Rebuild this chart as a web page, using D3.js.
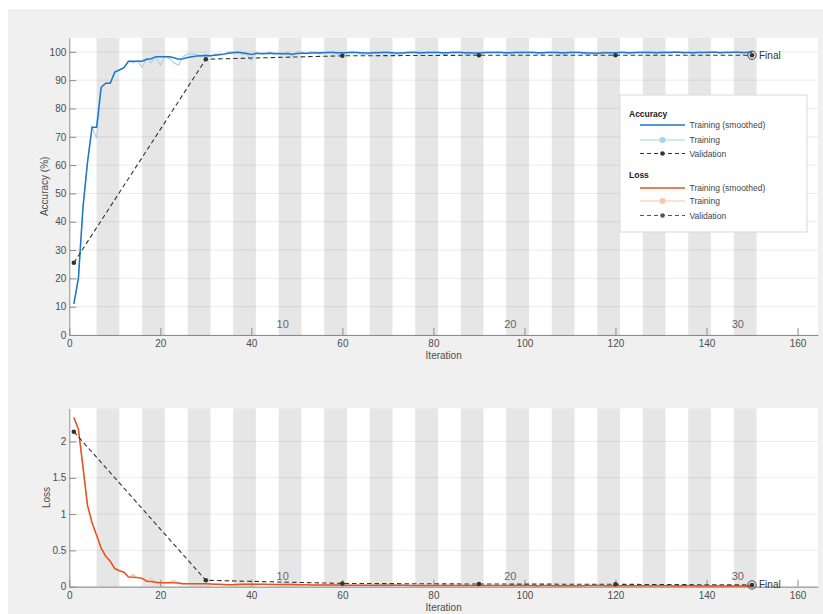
<!DOCTYPE html>
<html>
<head>
<meta charset="utf-8">
<script src="https://cdn.jsdelivr.net/npm/d3@7"></script>
<style>
  body { margin: 0; background: #ffffff; }
  svg { display: block; font-family: "Liberation Sans", Arial, Helvetica, sans-serif; }
</style>
</head>
<body>
<svg id="chart" width="823" height="614"></svg>
<script>
// ---------------- DATA ----------------
const accSmoothed = [
  11, 20, 45, 61, 73.4, 73.4, 87.5, 88.9, 88.9, 92.9,
  93.6, 94.4, 96.7, 96.7, 96.7, 96.7, 97.4, 97.6, 98.3, 98.3,
  98.3, 98.3, 97.9, 97.4, 97.6, 98.0, 98.3, 98.5, 98.6, 98.7,
  98.6, 98.8, 99.0, 99.2, 99.5, 99.7, 99.9, 99.7, 99.4, 99.1,
  99.4, 99.4, 99.4, 99.5, 99.4, 99.4, 99.3, 99.4, 99.2, 99.4,
  99.5, 99.5, 99.6, 99.6, 99.7, 99.7, 99.8, 99.8, 99.7, 99.7,
  99.7, 99.8, 99.8, 99.7, 99.6, 99.6, 99.7, 99.7, 99.8, 99.8,
  99.7, 99.6, 99.6, 99.7, 99.8, 99.8, 99.7, 99.7, 99.8, 99.8,
  99.8, 99.7, 99.7, 99.8, 99.8, 99.8, 99.7, 99.7, 99.6, 99.6,
  99.7, 99.8, 99.8, 99.8, 99.8, 99.7, 99.7, 99.8, 99.8, 99.8,
  99.8, 99.8, 99.7, 99.7, 99.8, 99.8, 99.8, 99.7, 99.7, 99.8,
  99.8, 99.8, 99.7, 99.6, 99.6, 99.5, 99.6, 99.7, 99.7, 99.7,
  99.8, 99.8, 99.7, 99.7, 99.8, 99.8, 99.8, 99.8, 99.7, 99.8,
  99.8, 99.8, 99.9, 99.9, 99.8, 99.8, 99.7, 99.8, 99.8, 99.8,
  99.9, 99.9, 99.8, 99.8, 99.8, 99.9, 99.9, 99.8, 99.8, 99.9
];
const accRaw = [
  11, 20, 45, 61, 73.4, 69.5, 87.5, 88.9, 88.9, 92.9,
  93.6, 94.4, 96.7, 96.1, 96.9, 94.5, 97.7, 96.1, 98.4, 95.3,
  98.4, 97.7, 96.1, 95.3, 98.4, 99.2, 99.2, 99.2, 98.4, 99.2,
  98.4, 99.2, 99.2, 99.2, 100, 100, 100, 99.2, 99.2, 97.0,
  100, 99.2, 99.2, 100, 99.2, 99.2, 99.2, 100, 98.4, 100,
  100, 99.2, 100, 100, 99.2, 100, 100, 100, 99.2, 99.2,
  100, 100, 100, 99.2, 99.2, 99.2, 100, 100, 100, 100,
  99.2, 99.2, 99.2, 100, 100, 100, 99.2, 100, 100, 100,
  100, 99.2, 99.2, 100, 100, 100, 99.2, 99.2, 99.2, 99.2,
  100, 100, 100, 100, 100, 99.2, 99.2, 100, 100, 100,
  100, 100, 99.2, 99.2, 100, 100, 100, 99.2, 99.2, 100,
  100, 100, 99.2, 99.2, 99.2, 99.2, 100, 100, 99.2, 99.2,
  100, 100, 99.2, 100, 100, 100, 100, 100, 99.2, 100,
  100, 100, 100, 100, 99.2, 100, 99.2, 100, 100, 100,
  100, 100, 99.2, 100, 100, 100, 100, 99.2, 100, 100
];
const lossSmoothed = [
  2.33, 2.17, 1.65, 1.12, 0.88, 0.71, 0.53, 0.42, 0.35, 0.25,
  0.22, 0.20, 0.135, 0.13, 0.125, 0.115, 0.075, 0.07, 0.06, 0.055,
  0.055, 0.055, 0.055, 0.05, 0.04, 0.04, 0.04, 0.04, 0.04, 0.04,
  0.038, 0.035, 0.033, 0.03, 0.028, 0.028, 0.03, 0.033, 0.035, 0.035,
  0.035, 0.034, 0.033, 0.032, 0.032, 0.031, 0.03, 0.03, 0.029, 0.028,
  0.027, 0.026, 0.025, 0.024, 0.024, 0.023, 0.022, 0.022, 0.022, 0.022,
  0.021, 0.021, 0.02, 0.02, 0.021, 0.021, 0.02, 0.02, 0.019, 0.019,
  0.019, 0.02, 0.02, 0.019, 0.018, 0.018, 0.018, 0.018, 0.017, 0.017,
  0.017, 0.017, 0.018, 0.018, 0.017, 0.016, 0.016, 0.017, 0.017, 0.017,
  0.016, 0.016, 0.015, 0.015, 0.015, 0.016, 0.016, 0.015, 0.015, 0.015,
  0.015, 0.014, 0.014, 0.015, 0.015, 0.014, 0.014, 0.014, 0.014, 0.013,
  0.013, 0.013, 0.014, 0.015, 0.015, 0.016, 0.015, 0.014, 0.014, 0.013,
  0.013, 0.013, 0.013, 0.013, 0.012, 0.012, 0.012, 0.012, 0.013, 0.012,
  0.012, 0.012, 0.011, 0.011, 0.012, 0.012, 0.012, 0.011, 0.011, 0.011,
  0.011, 0.011, 0.011, 0.011, 0.011, 0.010, 0.010, 0.011, 0.011, 0.010
];
const lossRaw = [
  2.33, 2.17, 1.65, 1.12, 0.88, 0.71, 0.53, 0.42, 0.35, 0.25,
  0.22, 0.20, 0.12, 0.17, 0.12, 0.115, 0.075, 0.12, 0.05, 0.055,
  0.055, 0.06, 0.09, 0.04, 0.04, 0.04, 0.045, 0.035, 0.04, 0.04,
  0.035, 0.033, 0.03, 0.028, 0.026, 0.028, 0.035, 0.036, 0.035, 0.04,
  0.033, 0.034, 0.03, 0.032, 0.033, 0.029, 0.03, 0.028, 0.032, 0.026,
  0.025, 0.026, 0.024, 0.023, 0.025, 0.022, 0.021, 0.023, 0.022, 0.024,
  0.02, 0.021, 0.019, 0.021, 0.023, 0.02, 0.019, 0.021, 0.018, 0.019,
  0.02, 0.022, 0.019, 0.018, 0.017, 0.019, 0.018, 0.017, 0.017, 0.016,
  0.018, 0.017, 0.019, 0.017, 0.016, 0.016, 0.017, 0.018, 0.016, 0.017,
  0.015, 0.016, 0.015, 0.014, 0.016, 0.017, 0.015, 0.014, 0.015, 0.016,
  0.014, 0.014, 0.015, 0.016, 0.014, 0.013, 0.015, 0.014, 0.013, 0.013,
  0.014, 0.012, 0.016, 0.016, 0.014, 0.017, 0.014, 0.013, 0.014, 0.012,
  0.013, 0.014, 0.012, 0.013, 0.012, 0.011, 0.013, 0.012, 0.014, 0.011,
  0.012, 0.013, 0.01, 0.011, 0.013, 0.012, 0.011, 0.01, 0.012, 0.011,
  0.012, 0.01, 0.011, 0.012, 0.01, 0.01, 0.011, 0.012, 0.01, 0.01
];
const valIters = [1, 30, 60, 90, 120, 150];
const valAcc = [25.5, 97.4, 98.6, 98.8, 98.8, 98.8];
const valLoss = [2.135, 0.088, 0.045, 0.037, 0.033, 0.024];
const xTicks = [0, 20, 40, 60, 80, 100, 120, 140, 160];
const accTicks = [0, 10, 20, 30, 40, 50, 60, 70, 80, 90, 100];
const lossTicks = [0, 0.5, 1, 1.5, 2];
const lossTickLabels = ["0", "0.5", "1", "1.5", "2"];
const epochLabels = [10, 20, 30];
const numEpochs = 30;
const itersPerEpoch = 5;

// ---------------- DRAWING ----------------
const svg = d3.select("#chart");
svg.append("rect").attr("x", 8).attr("y", 9).attr("width", 815).attr("height", 605).attr("fill", "#f0f0f0");

const x = d3.scaleLinear().domain([0, 164.5]).range([69.3, 818]);
const axisColor = "#8c8c8c";
const textColor = "#4d4d4d";

const colors = {
  accS: "#1f77c9", accR: "#a9d2ee",
  lossS: "#e8501c", lossR: "#f9c6aa",
  val: "#333333"
};

function panel(cfg) {
  const g = svg.append("g");
  const y = cfg.y;
  const [yb, yt] = y.range();
  g.append("rect").attr("x", x.range()[0]).attr("y", yt)
    .attr("width", x.range()[1] - x.range()[0]).attr("height", yb - yt).attr("fill", "#ffffff");
  const bands = d3.range(2, numEpochs + 1, 2);
  g.selectAll(".band").data(bands).join("rect")
    .attr("x", e => x((e - 1) * itersPerEpoch + 1))
    .attr("width", e => x(e * itersPerEpoch + 1) - x((e - 1) * itersPerEpoch + 1))
    .attr("y", yt).attr("height", yb - yt).attr("fill", "#e6e6e6");
  g.selectAll(".grid").data(cfg.ticks).join("line")
    .attr("x1", x.range()[0]).attr("x2", x.range()[1])
    .attr("y1", d => y(d)).attr("y2", d => y(d))
    .attr("stroke", "#000").attr("stroke-opacity", 0.08).attr("stroke-width", 1);
  g.selectAll(".elab").data(epochLabels).join("text")
    .attr("x", e => x(e * itersPerEpoch) - 8)
    .attr("y", yb - 7)
    .attr("text-anchor", "end")
    .attr("font-size", 11).attr("fill", "#666")
    .text(d => d);
  const ax = g.append("g").attr("transform", `translate(0,${yb})`)
    .call(d3.axisBottom(x).tickValues(xTicks).tickSize(-7).tickSizeOuter(0).tickPadding(5));
  const ay = g.append("g").attr("transform", `translate(${x.range()[0]},0)`)
    .call(d3.axisLeft(y).tickValues(cfg.ticks).tickSize(-7).tickSizeOuter(0).tickPadding(3)
      .tickFormat((d, i) => cfg.tickLabels[i]));
  [ax, ay].forEach(a => {
    a.select(".domain").attr("stroke", axisColor);
    a.selectAll(".tick line").attr("stroke", axisColor);
    a.selectAll(".tick text").attr("fill", textColor).attr("font-size", 10)
      .attr("font-family", "'Liberation Sans', Arial, sans-serif");
  });
  g.append("text").attr("x", (x.range()[0] + x.range()[1]) / 2).attr("y", yb + 24)
    .attr("text-anchor", "middle").attr("font-size", 10).attr("fill", textColor).text("Iteration");
  g.append("text").attr("transform", `translate(${cfg.ylabX},${(yb + yt) / 2}) rotate(-90)`)
    .attr("text-anchor", "middle").attr("font-size", 10).attr("fill", textColor).text(cfg.ylabel);

  const line = d3.line().x((d, i) => x(i + 1)).y(d => y(d));
  g.append("path").datum(cfg.raw).attr("d", line).attr("fill", "none")
    .attr("stroke", cfg.rawColor).attr("stroke-width", 1.2);
  g.append("path").datum(cfg.smooth).attr("d", line).attr("fill", "none")
    .attr("stroke", cfg.smoothColor).attr("stroke-width", 1.5);
  const vline = d3.line().x((d, i) => x(valIters[i])).y(d => y(d));
  g.append("path").datum(cfg.val).attr("d", vline).attr("fill", "none")
    .attr("stroke", colors.val).attr("stroke-width", 1.1).attr("stroke-dasharray", "4.5,3");
  g.selectAll(".vdot").data(cfg.val).join("circle")
    .attr("cx", (d, i) => x(valIters[i])).attr("cy", d => y(d)).attr("r", 2.3).attr("fill", colors.val);
  const last = cfg.val[cfg.val.length - 1];
  const lastIt = valIters[valIters.length - 1];
  g.append("circle").attr("cx", x(lastIt)).attr("cy", y(last)).attr("r", 4.2)
    .attr("fill", "none").attr("stroke", colors.val).attr("stroke-width", 0.9);
  g.append("text").attr("x", x(lastIt) + 7).attr("y", y(last) + 3.5)
    .attr("font-size", 10).attr("fill", "#333").text("Final");
}

panel({
  y: d3.scaleLinear().domain([0, 105]).range([335, 37.7]),
  ticks: accTicks, tickLabels: accTicks.map(String),
  raw: accRaw, smooth: accSmoothed, val: valAcc,
  rawColor: colors.accR, smoothColor: colors.accS,
  ylabel: "Accuracy (%)", ylabX: 48
});
panel({
  y: d3.scaleLinear().domain([0, 2.457]).range([586.7, 408.3]),
  ticks: lossTicks, tickLabels: lossTickLabels,
  raw: lossRaw, smooth: lossSmoothed, val: valLoss,
  rawColor: colors.lossR, smoothColor: colors.lossS,
  ylabel: "Loss", ylabX: 50
});

// legend
const lg = svg.append("g");
lg.append("rect").attr("x", 620).attr("y", 95).attr("width", 187).attr("height", 137)
  .attr("fill", "#ffffff").attr("stroke", "#d9d9d9").attr("stroke-width", 1);
const legendRows = [
  { type: "head", label: "Accuracy", y: 114 },
  { type: "line", color: colors.accS, label: "Training (smoothed)", y: 125 },
  { type: "dot", color: colors.accR, label: "Training", y: 140 },
  { type: "val", color: colors.val, label: "Validation", y: 153.5 },
  { type: "head", label: "Loss", y: 175 },
  { type: "line", color: colors.lossS, label: "Training (smoothed)", y: 188 },
  { type: "dot", color: colors.lossR, label: "Training", y: 201 },
  { type: "val", color: "#555", label: "Validation", y: 215.5 }
];
legendRows.forEach(r => {
  if (r.type === "head") {
    lg.append("text").attr("x", 629).attr("y", r.y + 3).attr("font-size", 8.5)
      .attr("font-weight", "bold").attr("fill", "#222").text(r.label);
    return;
  }
  lg.append("line").attr("x1", 640).attr("x2", 685).attr("y1", r.y).attr("y2", r.y)
    .attr("stroke", r.color).attr("stroke-width", r.type === "line" ? 1.5 : 1.2)
    .attr("stroke-dasharray", r.type === "val" ? "4,3" : null);
  if (r.type !== "line") {
    lg.append("circle").attr("cx", 662.5).attr("cy", r.y).attr("r", r.type === "dot" ? 3 : 2.3).attr("fill", r.color);
  }
  lg.append("text").attr("x", 689.5).attr("y", r.y + 3).attr("font-size", 8.5)
    .attr("fill", "#444").text(r.label);
});
</script>
</body>
</html>
